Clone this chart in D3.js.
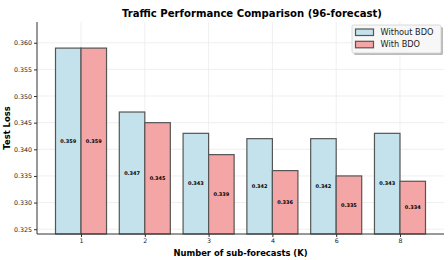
<!DOCTYPE html>
<html>
<head>
<meta charset="utf-8">
<script src="https://cdn.jsdelivr.net/npm/d3@7"></script>
<style>
  body { margin: 0; background: #fff; }
  text { font-family: "DejaVu Sans", sans-serif; }
</style>
</head>
<body>
<div id="vis"></div>
<script>
var categories = ['1', '2', '3', '4', '6', '8'];
var without_bdo = [0.359, 0.347, 0.343, 0.342, 0.342, 0.343];
var with_bdo = [0.359, 0.345, 0.339, 0.336, 0.335, 0.334];
var y_ticks = [0.325, 0.330, 0.335, 0.340, 0.345, 0.350, 0.355, 0.360];
var series_names = ['Without BDO', 'With BDO'];

var color_without = "#c4e2ec";
var color_with = "#f4a5a5";
var edge_color = "#555";

var width = 448, height = 260;
var margin = {top: 22, bottom: 26, left: 37, right: 4};

var svg = d3.select('#vis')
  .append('svg')
  .attr('width', width)
  .attr('height', height);

var plot_w = width - margin.left - margin.right;
var plot_h = height - margin.top - margin.bottom;

var g = svg.append('g')
  .attr('transform', 'translate(' + margin.left + ',' + margin.top + ')');

// index based x scale, matplotlib style margins
var x_scale = d3.scaleLinear()
  .domain([-0.69, categories.length - 1 + 0.69])
  .range([0, plot_w]);

var y_scale = d3.scaleLinear()
  .domain([0.3241, 0.3639])
  .range([plot_h, 0]);

// grid
g.append('g').selectAll('line')
  .data(y_ticks)
  .enter().append('line')
  .attr('x1', 0).attr('x2', plot_w)
  .attr('y1', function(d) { return y_scale(d); })
  .attr('y2', function(d) { return y_scale(d); })
  .attr('stroke', '#ebebeb').attr('stroke-width', 0.8);

g.append('g').selectAll('line')
  .data(categories)
  .enter().append('line')
  .attr('x1', function(d, i) { return x_scale(i); })
  .attr('x2', function(d, i) { return x_scale(i); })
  .attr('y1', 0).attr('y2', plot_h)
  .attr('stroke', '#ebebeb').attr('stroke-width', 0.8);

var bar_w = x_scale(0.4) - x_scale(0);

function draw_series(values, offset, color) {
  var bars = g.append('g');
  bars.selectAll('rect')
    .data(values)
    .enter().append('rect')
    .attr('x', function(d, i) { return x_scale(i + offset); })
    .attr('width', bar_w)
    .attr('y', function(d) { return y_scale(d); })
    .attr('height', function(d) { return plot_h - y_scale(d); })
    .attr('fill', color)
    .attr('stroke', edge_color)
    .attr('stroke-width', 1.2);

  bars.selectAll('text')
    .data(values)
    .enter().append('text')
    .attr('x', function(d, i) { return x_scale(i + offset) + bar_w / 2; })
    .attr('y', function(d) { return (y_scale(d) + plot_h) / 2; })
    .attr('dy', '0.35em')
    .attr('text-anchor', 'middle')
    .style('font-size', '5px')
    .style('font-weight', 'bold')
    .text(function(d) { return d3.format('.3f')(d); });
}

draw_series(without_bdo, -0.4, color_without);
draw_series(with_bdo, 0, color_with);

// axes
var y_axis = d3.axisLeft(y_scale)
  .tickValues(y_ticks)
  .tickFormat(d3.format('.3f'))
  .tickSize(3)
  .tickPadding(2);

var x_axis = d3.axisBottom(x_scale)
  .tickValues(d3.range(categories.length))
  .tickFormat(function(d) { return categories[d]; })
  .tickSize(3)
  .tickPadding(2);

var ya = g.append('g').attr('class', 'y axis').call(y_axis);
var xa = g.append('g').attr('class', 'x axis')
  .attr('transform', 'translate(0,' + plot_h + ')')
  .call(x_axis);

[ya, xa].forEach(function(a) {
  a.select('.domain').attr('stroke', '#333').attr('stroke-width', 1);
  a.selectAll('.tick line').attr('stroke', '#333');
  a.selectAll('.tick text').style('font-size', '6.3px').attr('fill', '#222');
});
ya.select('.domain').attr('d', 'M0,' + plot_h + 'V0');
xa.select('.domain').attr('d', 'M0,0H' + plot_w);

// title and labels
svg.append('text')
  .attr('x', 252)
  .attr('y', 17)
  .attr('text-anchor', 'middle')
  .style('font-size', '10.1px')
  .style('font-weight', 'bold')
  .text('Traffic Performance Comparison (96-forecast)');

svg.append('text')
  .attr('transform', 'translate(' + (margin.left + plot_w / 2) + ',' + 256 + ')')
  .attr('text-anchor', 'middle')
  .style('font-size', '8.4px')
  .style('font-weight', 'bold')
  .text('Number of sub-forecasts (K)');

svg.append('text')
  .attr('transform', 'rotate(-90)')
  .attr('x', -(margin.top + plot_h / 2))
  .attr('y', 10)
  .attr('text-anchor', 'middle')
  .style('font-size', '8.4px')
  .style('font-weight', 'bold')
  .text('Test Loss');

// legend
var legend = svg.append('g').attr('transform', 'translate(352,25)');
legend.append('rect')
  .attr('x', 2).attr('y', 2)
  .attr('width', 89).attr('height', 28)
  .attr('rx', 1.5)
  .attr('fill', '#bbb');
legend.append('rect')
  .attr('width', 89).attr('height', 28)
  .attr('rx', 1.5)
  .attr('fill', '#f7f7f7')
  .attr('stroke', '#d0d0d0')
  .attr('stroke-width', 0.8);

var legend_colors = [color_without, color_with];
series_names.forEach(function(name, i) {
  legend.append('rect')
    .attr('x', 3.5).attr('y', 4 + i * 12.3)
    .attr('width', 18).attr('height', 6.5)
    .attr('fill', legend_colors[i])
    .attr('stroke', edge_color)
    .attr('stroke-width', 1.2);
  legend.append('text')
    .attr('x', 28.5).attr('y', 7.3 + i * 12.3)
    .attr('dy', '0.35em')
    .style('font-size', '8.2px')
    .attr('fill', '#222')
    .text(name);
});
</script>
</body>
</html>
